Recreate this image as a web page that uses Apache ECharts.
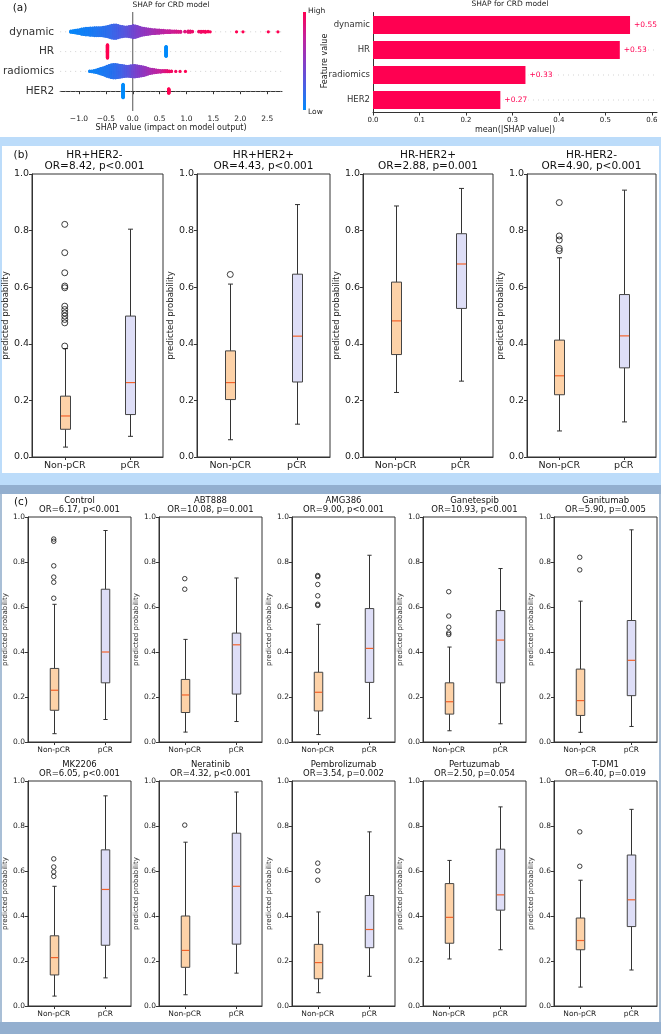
<!DOCTYPE html>
<html><head><meta charset="utf-8">
<script src="https://cdn.jsdelivr.net/npm/echarts@6/dist/echarts.min.js"></script>
<style>html,body{margin:0;padding:0;background:#fff}#c{width:661px;height:1034px}</style>
</head><body><div id="c"></div>
<script>
// ---------------- DATA ----------------
const shapFeatures = ['dynamic', 'HR', 'radiomics', 'HER2'];
// beeswarm read as histogram bins: [SHAP value, number of patients, feature value (0 low .. 1 high)]
const dynamicBins = [
[-1.15,4,.02],[-1.11,6,.03],[-1.07,8,.03],[-1.03,10,.04],[-0.99,12,.05],[-0.95,16,.05],[-0.91,18,.06],[-0.87,20,.07],[-0.83,20,.07],[-0.79,22,.08],
[-0.75,22,.09],[-0.71,24,.10],[-0.67,24,.11],[-0.63,24,.12],[-0.59,24,.13],[-0.55,26,.14],[-0.51,28,.15],[-0.47,30,.16],[-0.43,34,.17],[-0.39,38,.19],
[-0.35,40,.21],[-0.31,40,.22],[-0.27,36,.24],[-0.23,32,.26],[-0.19,30,.28],[-0.15,28,.30],[-0.11,28,.32],[-0.07,30,.34],[-0.03,32,.37],[0.01,36,.40],
[0.05,34,.42],[0.09,30,.45],[0.13,26,.47],[0.17,22,.50],[0.21,20,.52],[0.25,18,.54],[0.29,16,.56],[0.33,14,.58],[0.37,12,.60],[0.41,12,.62],
[0.45,10,.64],[0.49,10,.66],[0.53,8,.68],[0.57,8,.70],[0.61,6,.72],[0.65,6,.74],[0.69,6,.75],[0.73,4,.77],[0.77,4,.78],[0.81,4,.80],
[0.85,3,.82],[0.89,3,.83],[0.97,2,.85],[1.03,4,.88],[1.07,4,.90],[1.11,2,.92],[1.23,2,.93],[1.27,3,.94],[1.31,2,.95],[1.35,3,.96],
[1.40,2,.97],[1.44,1,.98],[1.93,1,1],[2.05,1,1],[2.52,1,1],[2.70,1,1]
];
const radiomicsBins = [
[-0.80,2,.04],[-0.76,3,.05],[-0.72,5,.05],[-0.68,8,.06],[-0.64,12,.07],[-0.60,16,.08],[-0.56,20,.09],[-0.52,24,.10],[-0.48,30,.11],[-0.44,34,.12],
[-0.40,38,.13],[-0.36,40,.15],[-0.32,40,.16],[-0.28,38,.18],[-0.24,36,.20],[-0.20,34,.22],[-0.16,32,.25],[-0.12,30,.28],[-0.08,30,.31],[-0.04,32,.34],
[0.00,34,.38],[0.04,34,.41],[0.08,32,.44],[0.12,30,.47],[0.16,28,.50],[0.20,26,.53],[0.24,22,.55],[0.28,18,.58],[0.32,14,.61],[0.36,12,.64],
[0.40,10,.67],[0.44,8,.70],[0.48,6,.73],[0.52,5,.76],[0.56,4,.80],[0.60,4,.84],[0.64,4,.88],[0.68,3,.92],[0.72,2,.95],[0.80,1,.96],
[0.88,1,.98],[0.98,1,1]
];
const hrBins = [[-0.47,40,1],[0.62,30,0]];
const her2Bins = [[-0.18,40,0],[0.67,14,1]];
const shapTicks = [-1.0, -0.5, 0.0, 0.5, 1.0, 1.5, 2.0, 2.5];

const meanAbsShap = [0.553, 0.531, 0.328, 0.274];
const meanAbsLabels = ['+0.55', '+0.53', '+0.33', '+0.27'];
const barTicks = [0, 0.1, 0.2, 0.3, 0.4, 0.5, 0.6];

const groups = ['Non-pCR', 'pCR'];

// (b) subtypes: [low whisker, Q1, median, Q3, high whisker]
const subtypeTitles = ['HR+HER2-', 'HR+HER2+', 'HR-HER2+', 'HR-HER2-'];
const subtypeStats = ['OR=8.42, p<0.001', 'OR=4.43, p<0.001', 'OR=2.88, p=0.001', 'OR=4.90, p<0.001'];
const subtypeNonPCR = [[0.035,0.098,0.145,0.215,0.383],[0.061,0.203,0.263,0.375,0.611],[0.228,0.362,0.481,0.618,0.887],[0.092,0.22,0.287,0.413,0.704]];
const subtypePCR = [[0.073,0.15,0.263,0.498,0.805],[0.116,0.265,0.427,0.646,0.892],[0.268,0.525,0.682,0.789,0.949],[0.124,0.315,0.428,0.574,0.943]];
const subtypeNonPCROutliers = [[0.392,0.474,0.486,0.498,0.509,0.521,0.533,0.598,0.604,0.651,0.722,0.822],[0.645],[],[0.729,0.737,0.767,0.781,0.899]];
const subtypePCROutliers = [[],[],[],[]];

// (c) trial arms
const trialNames = ['Control','ABT888','AMG386','Ganetespib','Ganitumab','MK2206','Neratinib','Pembrolizumab','Pertuzumab','T-DM1'];
const trialStats = ['OR=6.17, p<0.001','OR=10.08, p=0.001','OR=9.00, p<0.001','OR=10.93, p<0.001','OR=5.90, p=0.005','OR=6.05, p<0.001','OR=4.32, p<0.001','OR=3.54, p=0.002','OR=2.50, p=0.054','OR=6.40, p=0.019'];
const trialNonPCR = [
[0.037,0.141,0.23,0.327,0.612],[0.044,0.131,0.209,0.278,0.456],[0.033,0.138,0.221,0.31,0.523],[0.05,0.124,0.179,0.263,0.422],[0.043,0.118,0.184,0.324,0.626],
[0.044,0.138,0.215,0.312,0.532],[0.05,0.172,0.247,0.40,0.728],[0.059,0.121,0.193,0.274,0.418],[0.209,0.279,0.394,0.544,0.647],[0.084,0.25,0.291,0.391,0.559]];
const trialPCR = [
[0.10,0.263,0.40,0.679,0.94],[0.091,0.213,0.432,0.484,0.729],[0.105,0.265,0.416,0.593,0.83],[0.081,0.263,0.453,0.584,0.771],[0.069,0.206,0.363,0.54,0.943],
[0.125,0.27,0.518,0.694,0.934],[0.146,0.275,0.532,0.768,0.951],[0.132,0.259,0.34,0.491,0.774],[0.25,0.426,0.494,0.697,0.885],[0.16,0.353,0.472,0.671,0.874]];
const trialNonPCROutliers = [
[0.639,0.71,0.733,0.783,0.892,0.902],[0.679,0.726],[0.607,0.612,0.65,0.70,0.735,0.74],[0.478,0.485,0.51,0.56,0.668],[0.765,0.821],
[0.576,0.596,0.618,0.654],[0.804],[0.559,0.601,0.635],[],[0.621,0.774]];
const trialPCROutliers = [[],[],[],[],[],[],[],[],[],[]];

// ---------------- LAYOUT / STYLE ----------------
const FONT = 'DejaVu Sans';
const INK = '#222';
const SPINE = '#333';
const NONPCR_FILL = '#fdd2a8';
const PCR_FILL = '#dedef7';
const MEDIAN = '#f4622a';
const SHAP_RED = '#ff0051';
const CMAP = ['#008bfb', '#4a5fe4', '#8a3bc4', '#c6219b', '#ff0052'];

const chart = echarts.init(document.getElementById('c'), null, { renderer: 'canvas' });
const grids = [], xAxes = [], yAxes = [], series = [], graphics = [];

function rect(x, y, w, h, fill) {
  return { type: 'rect', shape: { x, y, width: w, height: h }, style: { fill }, silent: true, z: -10 };
}
function text(x, y, str, size, opts) {
  return Object.assign({ type: 'text', x, y, silent: true, z: 10,
    style: Object.assign({ text: str, font: size + 'px "' + FONT + '"', fill: '#111', textAlign: 'center', textVerticalAlign: 'middle' }, (opts && opts.style) || {}) },
    opts && opts.extra ? opts.extra : {});
}

// backgrounds / frames
const LB = '#bcdcfa', SB = '#93afcf';
graphics.push(
  rect(0, 137, 661, 9, LB), rect(0, 146, 2, 327, LB), rect(659, 146, 2, 327, LB),
  rect(0, 473, 661, 12, LB), rect(0, 485, 661, 9, SB),
  rect(0, 494, 2, 528, '#a9bfd6'), rect(659, 494, 2, 528, '#a9bfd6'),
  rect(0, 1022, 661, 12, SB)
);

// ---------- (a) left: beeswarm (shap's binned layering layout) ----------
function expandBins(bins) {
  const out = [];
  bins.forEach(b => { for (let j = 0; j < b[1]; j++) out.push([b[0], b[2]]); });
  return out;
}
function swarm(points, rowY) {
  const xs = points.map(p => p[0]);
  const mn = Math.min(...xs), mx = Math.max(...xs);
  const nb = 100;
  const q = xs.map(x => Math.round(nb * (x - mn) / (mx - mn + 1e-8)));
  const idx = xs.map((_, i) => i).sort((a, b) => (q[a] - q[b]) || (a - b));
  const ys = new Array(xs.length).fill(0);
  let layer = 0, last = -1;
  for (const i of idx) {
    if (q[i] !== last) layer = 0;
    ys[i] = Math.ceil(layer / 2) * ((layer % 2) * 2 - 1);
    layer++; last = q[i];
  }
  const m = Math.max(...ys.map(y => y + 1));
  return points.map((p, i) => [p[0], rowY + ys[i] * 0.9 * 0.4 / m, p[1]]);
}
const XMIN_A = -1.35, XMAX_A = 2.775;
grids.push({ left: 58, top: 12, width: 224, height: 99 });
xAxes.push({ type: 'value', gridIndex: 0, min: XMIN_A, max: XMAX_A,
  axisLine: { show: true, lineStyle: { color: SPINE } },
  axisTick: { show: true, length: 3, customValues: shapTicks, lineStyle: { color: SPINE } },
  axisLabel: { customValues: shapTicks, fontSize: 7.5, color: INK, margin: 4, fontFamily: FONT,
    formatter: v => (v < 0 ? '\u2212' : '') + Math.abs(v).toFixed(1) },
  splitLine: { show: false },
  name: 'SHAP value (impact on model output)', nameLocation: 'middle', nameGap: 13,
  nameTextStyle: { fontSize: 8, color: INK, fontFamily: FONT } });
yAxes.push({ type: 'value', gridIndex: 0, min: -1, max: 4,
  axisLine: { show: false }, axisTick: { show: false }, splitLine: { show: false },
  axisLabel: { customValues: [0, 1, 2, 3], formatter: v => shapFeatures[3 - v], fontSize: 10.5, color: '#333', margin: 6, fontFamily: FONT } });
[0, 1, 2, 3].forEach(r => series.push({ type: 'line', xAxisIndex: 0, yAxisIndex: 0, data: [[XMIN_A, r], [XMAX_A, r]],
  symbol: 'none', silent: true, z: 1, lineStyle: { color: '#c8c8c8', width: 0.8, type: [1, 4] } }));
series.push({ type: 'line', xAxisIndex: 0, yAxisIndex: 0, data: [[0, -1], [0, 4]], symbol: 'none', silent: true, z: 1,
  lineStyle: { color: '#555', width: 1 } });
const swarmData = [].concat(
  swarm(expandBins(dynamicBins), 3),
  swarm(expandBins(hrBins), 2),
  swarm(expandBins(radiomicsBins), 1),
  swarm(expandBins(her2Bins), 0)
);
const swarmSeriesIndex = series.length;
series.push({ type: 'scatter', xAxisIndex: 0, yAxisIndex: 0, data: swarmData, symbolSize: 3.2, z: 3,
  itemStyle: { opacity: 1 }, silent: true, large: false });

// colorbar
graphics.push({ type: 'rect', shape: { x: 303, y: 12, width: 3, height: 98 }, silent: true,
  style: { fill: { type: 'linear', x: 0, y: 0, x2: 0, y2: 1, colorStops: CMAP.slice().reverse().map((c, i, a) => ({ offset: i / (a.length - 1), color: c })) } } });
graphics.push(text(308, 11, 'High', 7.5, { style: { textAlign: 'left', fill: INK } }));
graphics.push(text(308, 112, 'Low', 7.5, { style: { textAlign: 'left', fill: INK } }));
graphics.push(text(325, 61, 'Feature value', 8, { style: { fill: INK }, extra: { rotation: Math.PI / 2 } }));
graphics.push(text(171, 5, 'SHAP for CRD model', 7.5, { style: { fill: INK } }));
graphics.push(text(20, 8, '(a)', 10.5));

// ---------- (a) right: mean |SHAP| bars ----------
const XMAX_B = 0.611;
grids.push({ left: 373, top: 12.5, width: 284, height: 100 });
xAxes.push({ type: 'value', gridIndex: 1, min: 0, max: XMAX_B,
  axisLine: { show: true, lineStyle: { color: SPINE } },
  axisTick: { show: true, length: 3, customValues: barTicks, lineStyle: { color: SPINE } },
  axisLabel: { customValues: barTicks, fontSize: 7, color: INK, margin: 4, fontFamily: FONT, formatter: v => v.toFixed(1) },
  splitLine: { show: false },
  name: 'mean(|SHAP value|)', nameLocation: 'middle', nameGap: 13,
  nameTextStyle: { fontSize: 8, color: INK, fontFamily: FONT } });
yAxes.push({ type: 'category', gridIndex: 1, data: shapFeatures, inverse: true,
  axisLine: { show: true, lineStyle: { color: SPINE } }, axisTick: { show: false },
  axisLabel: { fontSize: 8.5, color: '#333', margin: 3, fontFamily: FONT } });
shapFeatures.forEach((f, i) => series.push({ type: 'line', xAxisIndex: 1, yAxisIndex: 1, data: [[0, i], [XMAX_B, i]],
  symbol: 'none', silent: true, z: 1, lineStyle: { color: '#c8c8c8', width: 0.8, type: [1, 4] } }));
series.push({ type: 'bar', xAxisIndex: 1, yAxisIndex: 1, data: meanAbsShap, barWidth: 18, z: 3,
  itemStyle: { color: SHAP_RED },
  label: { show: true, position: 'right', distance: 3, color: SHAP_RED, fontSize: 7.5, fontFamily: FONT,
    backgroundColor: '#fff', padding: [0, 1], formatter: p => meanAbsLabels[p.dataIndex] } });
graphics.push(text(510, 4, 'SHAP for CRD model', 7.5, { style: { fill: INK } }));

// ---------- box panels ----------
function boxRenderer(boxW) {
  return function (params, api) {
    const c = api.value(0);
    const pL = api.coord([c, api.value(1)]);
    const p1 = api.coord([c, api.value(2)]);
    const pM = api.coord([c, api.value(3)]);
    const p3 = api.coord([c, api.value(4)]);
    const pH = api.coord([c, api.value(5)]);
    const x = Math.round(pL[0]) + 0.5;
    const hw = boxW / 2, cw = boxW / 4;
    const st = { stroke: '#333', lineWidth: 1 };
    return { type: 'group', children: [
      { type: 'line', shape: { x1: x, y1: pL[1], x2: x, y2: p1[1] }, style: st },
      { type: 'line', shape: { x1: x, y1: p3[1], x2: x, y2: pH[1] }, style: st },
      { type: 'line', shape: { x1: x - cw, y1: pL[1], x2: x + cw, y2: pL[1] }, style: st },
      { type: 'line', shape: { x1: x - cw, y1: pH[1], x2: x + cw, y2: pH[1] }, style: st },
      { type: 'rect', shape: { x: x - hw, y: p3[1], width: boxW, height: p1[1] - p3[1] },
        style: { fill: c === 0 ? NONPCR_FILL : PCR_FILL, stroke: '#444', lineWidth: 1 } },
      { type: 'line', shape: { x1: x - hw + 0.5, y1: pM[1], x2: x + hw - 0.5, y2: pM[1] }, style: { stroke: MEDIAN, lineWidth: 1.2 } }
    ] };
  };
}
function addBoxPanel(g, cfg) {
  const gi = grids.length;
  grids.push({ left: g.left, top: g.top, width: g.width, height: g.height, show: true,
    borderColor: SPINE, borderWidth: 1, backgroundColor: 'transparent' });
  xAxes.push({ type: 'category', gridIndex: gi, data: groups, boundaryGap: true,
    axisLine: { show: true, lineStyle: { color: SPINE } },
    axisTick: { show: true, alignWithLabel: true, length: 3, lineStyle: { color: SPINE } },
    axisLabel: { fontSize: cfg.tick, color: INK, margin: 4, fontFamily: FONT, interval: 0 } });
  yAxes.push({ type: 'value', gridIndex: gi, min: 0, max: 1, interval: 0.2,
    axisLine: { show: true, lineStyle: { color: SPINE } },
    axisTick: { show: true, length: 3, lineStyle: { color: SPINE } },
    axisLabel: { fontSize: cfg.tick, color: INK, margin: 3, fontFamily: FONT, formatter: v => v.toFixed(1) },
    splitLine: { show: false },
    name: 'predicted probability', nameLocation: 'middle', nameGap: cfg.nameGap,
    nameTextStyle: { fontSize: cfg.nameSize, color: INK, fontFamily: FONT } });
  series.push({ type: 'custom', xAxisIndex: gi, yAxisIndex: gi, renderItem: boxRenderer(cfg.boxW),
    encode: { x: 0, y: [1, 2, 3, 4, 5] }, z: 3, silent: true,
    data: [[0].concat(g.non), [1].concat(g.pcr)] });
  const out = g.nonOut.map(v => [0, v]).concat(g.pcrOut.map(v => [1, v]));
  if (out.length) series.push({ type: 'scatter', xAxisIndex: gi, yAxisIndex: gi, data: out, symbol: 'circle',
    symbolSize: cfg.flier, z: 4, silent: true,
    itemStyle: { color: 'rgba(0,0,0,0)', borderColor: '#111', borderWidth: 1 } });
  const cx = g.left + g.width / 2;
  graphics.push(text(cx, cfg.t1, g.title, cfg.title));
  graphics.push(text(cx, cfg.t2, g.stat, cfg.title));
}

// (b)
const bLeft = [26, 197, 363, 527], bWidth = [137, 133, 130, 129];
subtypeTitles.forEach((t, i) => addBoxPanel({
  left: bLeft[i], top: 174, width: bWidth[i], height: 283, title: t, stat: subtypeStats[i],
  non: subtypeNonPCR[i], pcr: subtypePCR[i], nonOut: subtypeNonPCROutliers[i], pcrOut: subtypePCROutliers[i]
}, { tick: 9.5, nameSize: 8.5, nameGap: 14, boxW: 10, flier: 6, title: 10.5, t1: 155, t2: 166 }));
graphics.push(text(21, 155, '(b)', 10.5));

// (c)
const cLeft = [28, 159, 292, 423, 554], cTop = [517, 781], cT1 = [501, 765], cT2 = [510, 774];
trialNames.forEach((t, i) => {
  const r = Math.floor(i / 5), k = i % 5;
  addBoxPanel({ left: cLeft[k], top: cTop[r], width: 103, height: 225, title: t, stat: trialStats[i],
    non: trialNonPCR[i], pcr: trialPCR[i], nonOut: trialNonPCROutliers[i], pcrOut: trialPCROutliers[i] },
    { tick: 7.5, nameSize: 7, nameGap: 16, boxW: 8.5, flier: 4.5, title: 8.5, t1: cT1[r], t2: cT2[r] });
});
graphics.push(text(21, 502, '(c)', 10.5));

chart.setOption({
  animation: false,
  textStyle: { fontFamily: FONT },
  grid: grids, xAxis: xAxes, yAxis: yAxes, series: series,
  visualMap: [{ type: 'continuous', show: false, min: 0, max: 1, dimension: 2, seriesIndex: swarmSeriesIndex,
    inRange: { color: CMAP } }],
  graphic: { elements: graphics }
});
</script></body></html>
